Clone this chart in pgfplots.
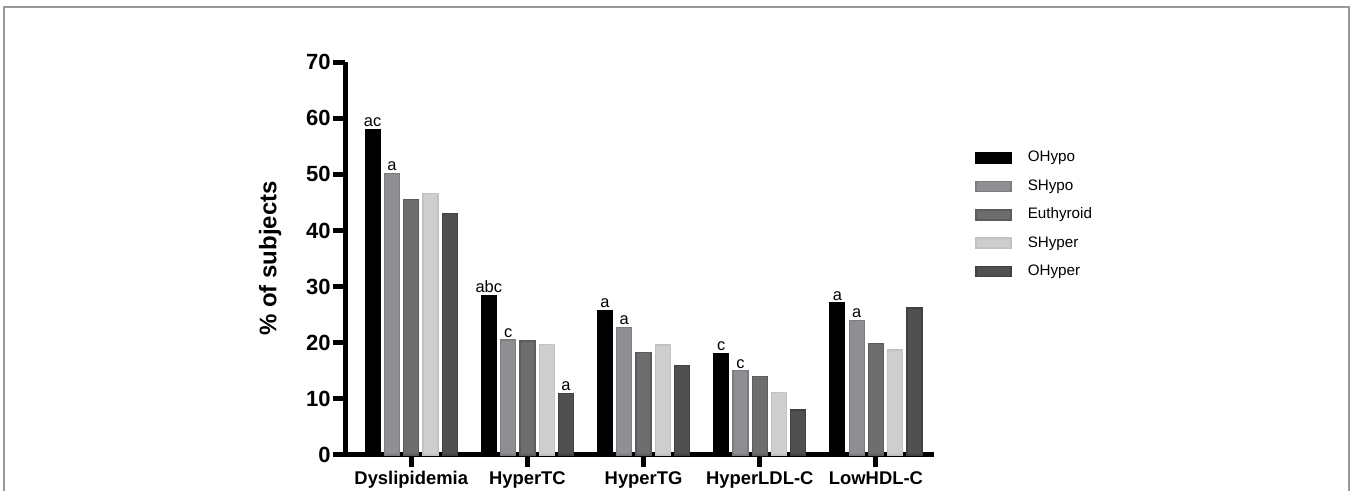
\documentclass[border=0pt]{standalone}
\usepackage{pgfplots}
\pgfplotsset{compat=1.18}
\usepackage{fontspec}
\setmainfont{Liberation Sans}
\definecolor{cA}{HTML}{000000}
\definecolor{cB}{HTML}{8F8F93}
\definecolor{cBe}{HTML}{7C7C80}
\definecolor{cC}{HTML}{6D6D6D}
\definecolor{cCe}{HTML}{5C5C5C}
\definecolor{cD}{HTML}{CECECE}
\definecolor{cDe}{HTML}{C2C2C2}
\definecolor{cE}{HTML}{505050}
\definecolor{cEe}{HTML}{404040}
\begin{document}
\begin{tikzpicture}
\useasboundingbox (0,0) rectangle (676pt,245.5pt);
\draw[black!40, line width=0.75pt] (2pt,-1pt) -- (2pt,242pt) -- (674.5pt,242pt) -- (674.5pt,-1pt);
\begin{axis}[
  at={(172.5pt,18pt)}, anchor=south west,
  scale only axis, width=294.5pt, height=196.5pt,
  xmin=-0.57, xmax=4.5, ymin=0, ymax=70,
  axis x line=bottom, axis y line=left,
  axis line style={line width=2.5pt,-},
  ytick={0,10,...,70},
  xtick={0,1,2,3,4},
  xticklabels={Dyslipidemia,HyperTC,HyperTG,HyperLDL-C,LowHDL-C},
  tick align=outside,
  major tick length=6pt,
  tick style={line width=2.5pt,black},
  /pgf/number format/assume math mode=true,
  yticklabel style={font=\fontsize{11}{13}\selectfont\bfseries, inner sep=1pt},
  xticklabel style={font=\fontsize{9.2}{11}\selectfont\bfseries, inner sep=2pt},
  ylabel={\% of subjects},
  every axis y label/.style={at={(rel axis cs:-0.127,0.5)}, anchor=center, rotate=90, font=\fontsize{12}{14}\selectfont\bfseries},
  ybar=2.15pt, bar width=7.5pt,
  nodes near coords,
  point meta=explicit symbolic,
  every node near coord/.append style={font=\fontsize{8.2}{9}\selectfont, anchor=south, inner sep=1pt, color=black},
  legend image code/.code={\draw[#1, line width=0.8pt] (0pt,-2.5pt) rectangle (17.5pt,2.5pt);},
  legend style={at={(rel axis cs:1.059,0.785)}, anchor=north west, draw=none, fill=none,
    font=\fontsize{7.6}{9}\selectfont, row sep=7.2pt, column sep=8pt,
    nodes={inner sep=0pt, text height=5.5pt, text depth=1.5pt}},
  legend cell align=left,
  clip=false,
]
\addplot[fill=cA, draw=cA, line width=0.6pt] coordinates {(0,58)[ac] (1,28.4)[abc] (2,25.7)[a] (3,18.1)[c] (4,27.1)[a]};
\addplot[fill=cB, draw=cBe, line width=0.6pt] coordinates {(0,50.1)[a] (1,20.5)[c] (2,22.7)[a] (3,15.0)[c] (4,24.0)[a]};
\addplot[fill=cC, draw=cCe, line width=0.6pt] coordinates {(0,45.5)[] (1,20.3)[] (2,18.3)[] (3,14.0)[] (4,19.8)[]};
\addplot[fill=cD, draw=cDe, line width=0.6pt] coordinates {(0,46.6)[] (1,19.7)[] (2,19.6)[] (3,11.1)[] (4,18.7)[]};
\addplot[fill=cE, draw=cEe, line width=0.6pt] coordinates {(0,43.0)[] (1,11.0)[a] (2,15.9)[] (3,8.0)[] (4,26.2)[]};
\legend{OHypo,SHypo,Euthyroid,SHyper,OHyper}
\end{axis}
\end{tikzpicture}
\end{document}
